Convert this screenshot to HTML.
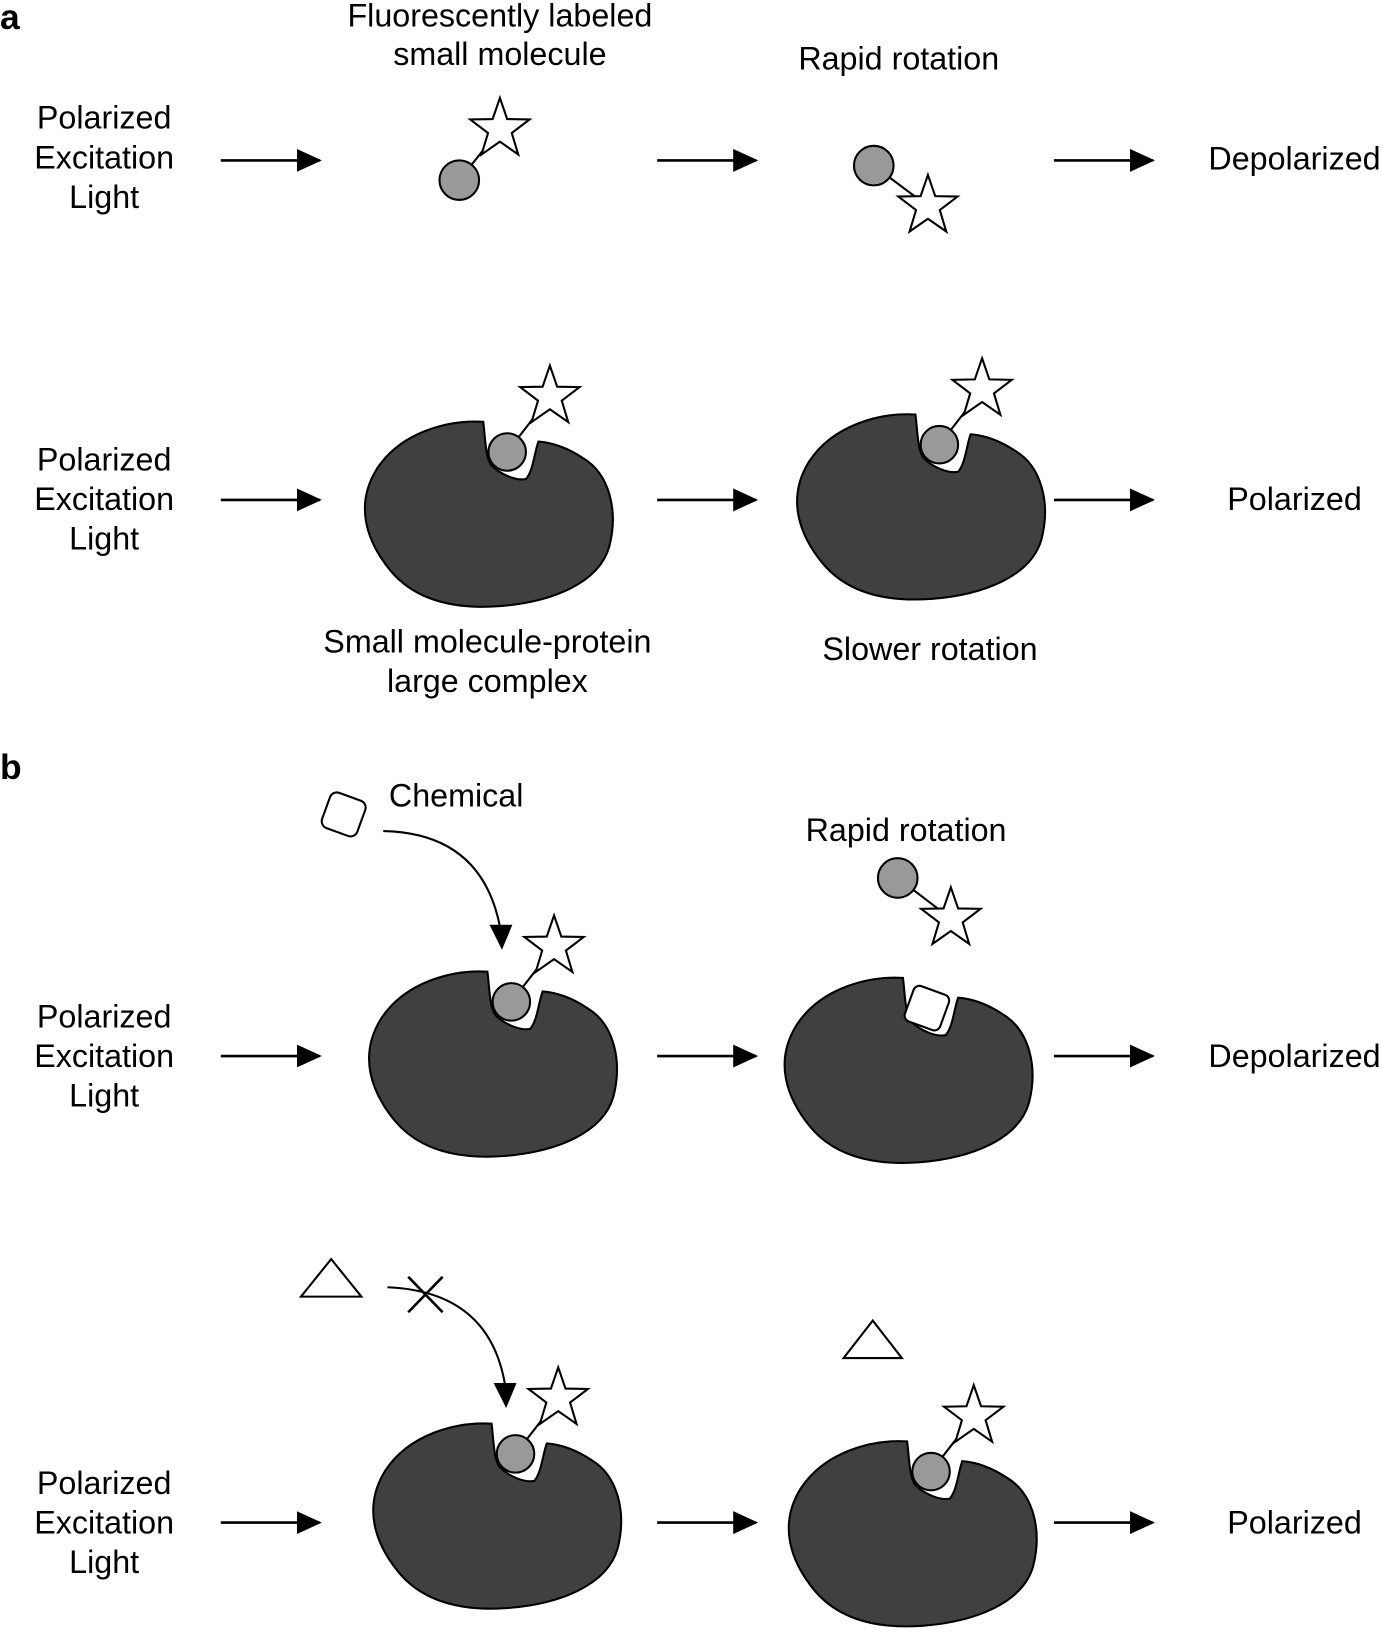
<!DOCTYPE html>
<html><head><meta charset="utf-8"><style>html,body{margin:0;padding:0;background:#fff}svg{display:block}</style></head>
<body>
<svg width="1382" height="1633" viewBox="0 0 1327 1568" xmlns="http://www.w3.org/2000/svg" font-family="Liberation Sans, Arial, sans-serif">
<defs>
<marker id="ah" markerWidth="24" markerHeight="22" refX="22" refY="11" orient="auto" markerUnits="userSpaceOnUse"><path d="M0,0 L24,11 L0,22 z" fill="#000"/></marker>
<path id="star" d="M0,-30 L7,-9.7 L28.5,-9.3 L11.4,3.7 L17.6,24.3 L0,12 L-17.6,24.3 L-11.4,3.7 L-28.5,-9.3 L-7,-9.7 z" fill="#fff" stroke="#000" stroke-width="2"/>
<path id="blob" d="M464,405 C430,403 385,415 362,450 C340,485 352,520 375,548 C400,578 440,585 480,582 C530,578 575,560 585,525 C594,490 585,455 560,440 C545,430 530,425 517,424 C513,435 512,452 505,460 C495,462 480,455 472,447 C466,440 466,420 464,405 z" fill="#404040" stroke="#000" stroke-width="2"/>
<g id="bound"><use href="#blob"/><line x1="487" y1="434" x2="528" y2="381" stroke="#000" stroke-width="2"/><circle cx="487" cy="434" r="18" fill="#999" stroke="#000" stroke-width="2"/><use href="#star" x="528" y="381"/></g>
</defs>
<g font-size="31" text-anchor="middle" fill="#000">
<text x="0" y="28" text-anchor="start" font-weight="bold" font-size="34">a</text>
<text x="0" y="748" text-anchor="start" font-weight="bold" font-size="34">b</text>
<g dominant-baseline="central">
<text x="100" y="113">Polarized</text><text x="100" y="151">Excitation</text><text x="100" y="189">Light</text>
<text x="100" y="441">Polarized</text><text x="100" y="479">Excitation</text><text x="100" y="517">Light</text>
<text x="100" y="976">Polarized</text><text x="100" y="1014">Excitation</text><text x="100" y="1052">Light</text>
<text x="100" y="1424">Polarized</text><text x="100" y="1462">Excitation</text><text x="100" y="1500">Light</text>
<text x="480" y="15">Fluorescently labeled</text><text x="480" y="52">small molecule</text>
<text x="863" y="56">Rapid rotation</text>
<text x="1243" y="152">Depolarized</text>
<text x="1243" y="479">Polarized</text>
<text x="468" y="616">Small molecule-protein</text><text x="468" y="654">large complex</text>
<text x="893" y="623">Slower rotation</text>
<text x="438" y="764">Chemical</text>
<text x="870" y="797">Rapid rotation</text>
<text x="1243" y="1014">Depolarized</text>
<text x="1243" y="1462">Polarized</text>
</g></g>
<g stroke="#000" stroke-width="2.5" marker-end="url(#ah)">
<line x1="212" y1="154" x2="307" y2="154"/><line x1="631" y1="154" x2="726" y2="154"/><line x1="1012" y1="154" x2="1107" y2="154"/>
<line x1="212" y1="480" x2="307" y2="480"/><line x1="631" y1="480" x2="726" y2="480"/><line x1="1012" y1="480" x2="1107" y2="480"/>
<line x1="212" y1="1014" x2="307" y2="1014"/><line x1="631" y1="1014" x2="726" y2="1014"/><line x1="1012" y1="1014" x2="1107" y2="1014"/>
<line x1="212" y1="1462" x2="307" y2="1462"/><line x1="631" y1="1462" x2="726" y2="1462"/><line x1="1012" y1="1462" x2="1107" y2="1462"/>
</g>
<g stroke="#000" stroke-width="2">
<line x1="441" y1="173" x2="480" y2="124"/><circle cx="441" cy="173" r="19" fill="#999"/><use href="#star" x="480" y="124"/>
<line x1="839" y1="159" x2="891" y2="198"/><circle cx="839" cy="159" r="19" fill="#999"/><use href="#star" x="891" y="198"/>
<line x1="862" y1="843" x2="913" y2="882"/><circle cx="862" cy="843" r="19" fill="#999"/><use href="#star" x="913" y="882"/>
</g>
<use href="#bound"/>
<use href="#bound" transform="translate(415,-7)"/>
<use href="#bound" transform="translate(4,528)"/>
<g transform="translate(403,534)"><use href="#blob"/><rect x="469" y="416" width="36" height="36" rx="6" fill="#fff" stroke="#000" stroke-width="2" transform="rotate(20 487 434)"/></g>
<use href="#bound" transform="translate(8,962)"/>
<use href="#bound" transform="translate(407,979)"/>
<rect x="312" y="764" width="36" height="36" rx="7" fill="#fff" stroke="#000" stroke-width="2" transform="rotate(20 330 782)"/>
<path d="M368,798 Q465,800 481,895" fill="none" stroke="#000" stroke-width="2"/>
<path d="M470,888 L492,888 L482,912 z" fill="#000"/>
<path d="M318,1209 L347,1245 L289,1245 z" fill="#fff" stroke="#000" stroke-width="2"/>
<path d="M372,1236 Q470,1240 485,1330" fill="none" stroke="#000" stroke-width="2"/>
<path d="M474,1328 L496,1328 L486,1352 z" fill="#000"/>
<path d="M392,1226 L425,1260 M392,1260 L425,1226" stroke="#000" stroke-width="2.5"/>
<path d="M838,1268 L866,1304 L810,1304 z" fill="#fff" stroke="#000" stroke-width="2"/>
</svg>
</body></html>
